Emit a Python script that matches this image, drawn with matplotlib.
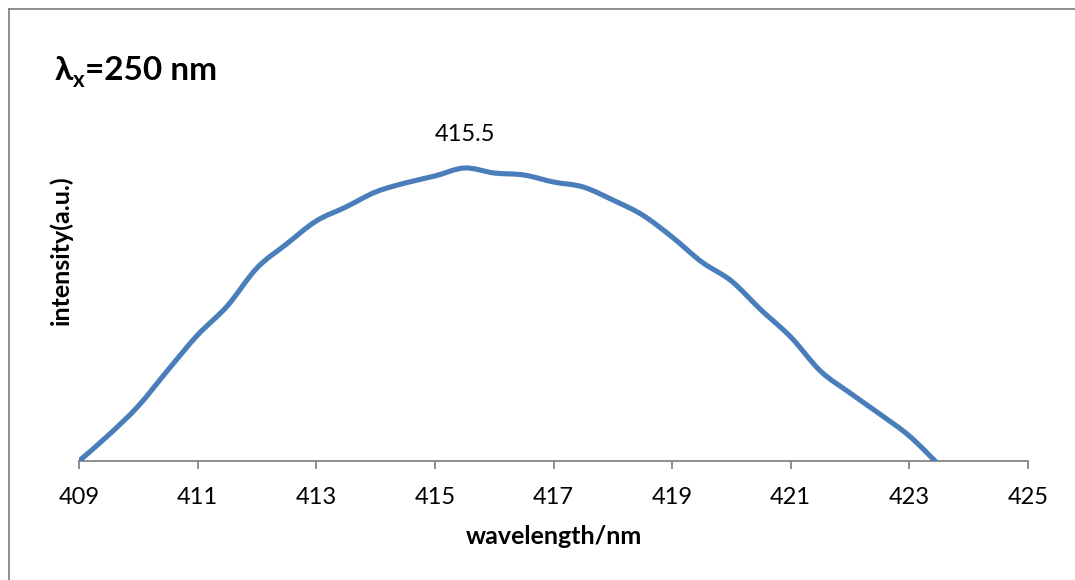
import matplotlib
matplotlib.use("Agg")
import matplotlib.pyplot as plt
from matplotlib.path import Path
from matplotlib.patches import PathPatch
from matplotlib.lines import Line2D
import numpy as np

plt.rcParams['font.family'] = ['Lato', 'DejaVu Sans']

# ---- data ----
wavelength = [409, 409.5, 410, 410.5, 411, 411.5, 412, 412.5, 413, 413.5,
              414, 414.5, 415, 415.5, 416, 416.5, 417, 417.5, 418, 418.5,
              419, 419.5, 420, 420.5, 421, 421.5, 422, 422.5, 423, 423.5]
intensity = [0, 26, 55, 91, 126, 155, 193, 217, 240, 254,
             269, 278, 285, 293, 288, 286, 279, 274, 261, 246,
             224, 199, 180, 151, 124, 90, 68, 47, 25, -4]
peak_label = "415.5"
peak_x = 415.5
xticks = [409, 411, 413, 415, 417, 419, 421, 423, 425]
title_sym = "λ"
title_sub = "x"
title_rest = "=250 nm"
xlabel = "wavelength/nm"
ylabel = "intensity(a.u.)"

LINE_COLOR = "#4a7ebb"
AXIS_GRAY = "#868686"

W, H = 1075, 580
fig = plt.figure(figsize=(W / 100, H / 100), dpi=100)
ax = fig.add_axes([79 / W, 1 - 461 / H, (1028 - 79) / W, 361 / H])

# smoothed line (Excel-style Catmull-Rom Bezier through the data points)
pts = np.column_stack([wavelength, intensity]).astype(float)
n = len(pts)
verts = [tuple(pts[0])]
codes = [Path.MOVETO]
for i in range(n - 1):
    p0 = pts[i - 1] if i > 0 else pts[i]
    p1 = pts[i]
    p2 = pts[i + 1]
    p3 = pts[i + 2] if i + 2 < n else pts[i + 1]
    c1 = p1 + (p2 - p0) / 6.0
    c2 = p2 - (p3 - p1) / 6.0
    verts += [tuple(c1), tuple(c2), tuple(p2)]
    codes += [Path.CURVE4] * 3
patch = PathPatch(Path(verts, codes), fill=False, edgecolor=LINE_COLOR,
                  linewidth=3.7, capstyle='butt', joinstyle='round', zorder=3)
ax.add_patch(patch)

ax.set_xlim(409, 425)
ax.set_ylim(0, 361)
ax.set_xticks(xticks)
ax.set_yticks([])
for s in ['left', 'right', 'top']:
    ax.spines[s].set_visible(False)
ax.spines['bottom'].set_color(AXIS_GRAY)
ax.spines['bottom'].set_linewidth(1.3)
ax.tick_params(axis='x', direction='out', length=6, width=1.3, color=AXIS_GRAY,
               labelsize=17, pad=13, labelcolor='black')
ax.set_xlabel(xlabel, fontsize=18, fontweight='bold', labelpad=12)
ax.set_ylabel(ylabel, fontsize=18, fontweight='bold')
ax.yaxis.label.set_verticalalignment('center')
ax.yaxis.set_label_coords((61 - 79) / 949, (461 - 250) / 361)

peak_y = intensity[wavelength.index(peak_x)]
ax.annotate(peak_label, xy=(peak_x, peak_y), xytext=(0, 24),
            textcoords='offset points', ha='center', va='center', fontsize=17)

# title: upright lambda with subscript x
t1 = fig.text(55 / W, 1 - 80 / H, title_sym, fontsize=24, fontweight='bold',
              ha='left', va='baseline')
fig.canvas.draw()
r = fig.canvas.get_renderer()
bb1 = t1.get_window_extent(r)
t2 = fig.text(bb1.x1 / W, (H - 87) / H, title_sub, fontsize=16, fontweight='bold',
              ha='left', va='baseline')
bb2 = t2.get_window_extent(r)
fig.text(bb2.x1 / W, 1 - 80 / H, title_rest, fontsize=24, fontweight='bold',
         ha='left', va='baseline')

# outer chart frame (partially visible: left and top edges)
fig.add_artist(Line2D([9 / W, 9 / W], [0, 1 - 9 / H], transform=fig.transFigure,
                      color=AXIS_GRAY, linewidth=1.3))
fig.add_artist(Line2D([9 / W, 1], [1 - 9 / H, 1 - 9 / H], transform=fig.transFigure,
                      color=AXIS_GRAY, linewidth=1.3))

fig.savefig("out.png", dpi=100)
